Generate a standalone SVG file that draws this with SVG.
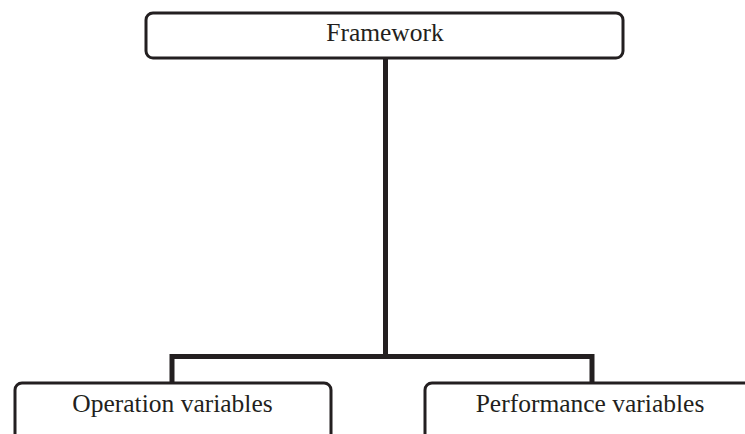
<svg xmlns="http://www.w3.org/2000/svg" width="745" height="434" viewBox="0 0 745 434">
<style>
.box{fill:#fff;stroke:#231f20;stroke-width:3}
.lbl{font-family:"Liberation Serif","Times New Roman",serif;font-size:25.5px;fill:#231f20;text-anchor:middle}
.conn{fill:none;stroke:#231f20;stroke-width:5;stroke-linejoin:miter;stroke-linecap:butt}
</style>
<rect width="745" height="434" fill="#fff"/>
<g id="connectors">
<path class="conn" d="M385.5 58 V356.5"/>
<path class="conn" d="M172 383 V356.5 H592 V383"/>
</g>
<g id="framework">
<rect class="box" x="146" y="13" width="477" height="45" rx="7"/>
<text class="lbl" x="385" y="41">Framework</text>
</g>
<g id="operation">
<rect class="box" x="15" y="383" width="316" height="70" rx="7"/>
<text class="lbl" x="172.5" y="412">Operation variables</text>
</g>
<g id="performance">
<rect class="box" x="425" y="383" width="360" height="70" rx="7"/>
<text class="lbl" x="590" y="412">Performance variables</text>
</g>
</svg>
